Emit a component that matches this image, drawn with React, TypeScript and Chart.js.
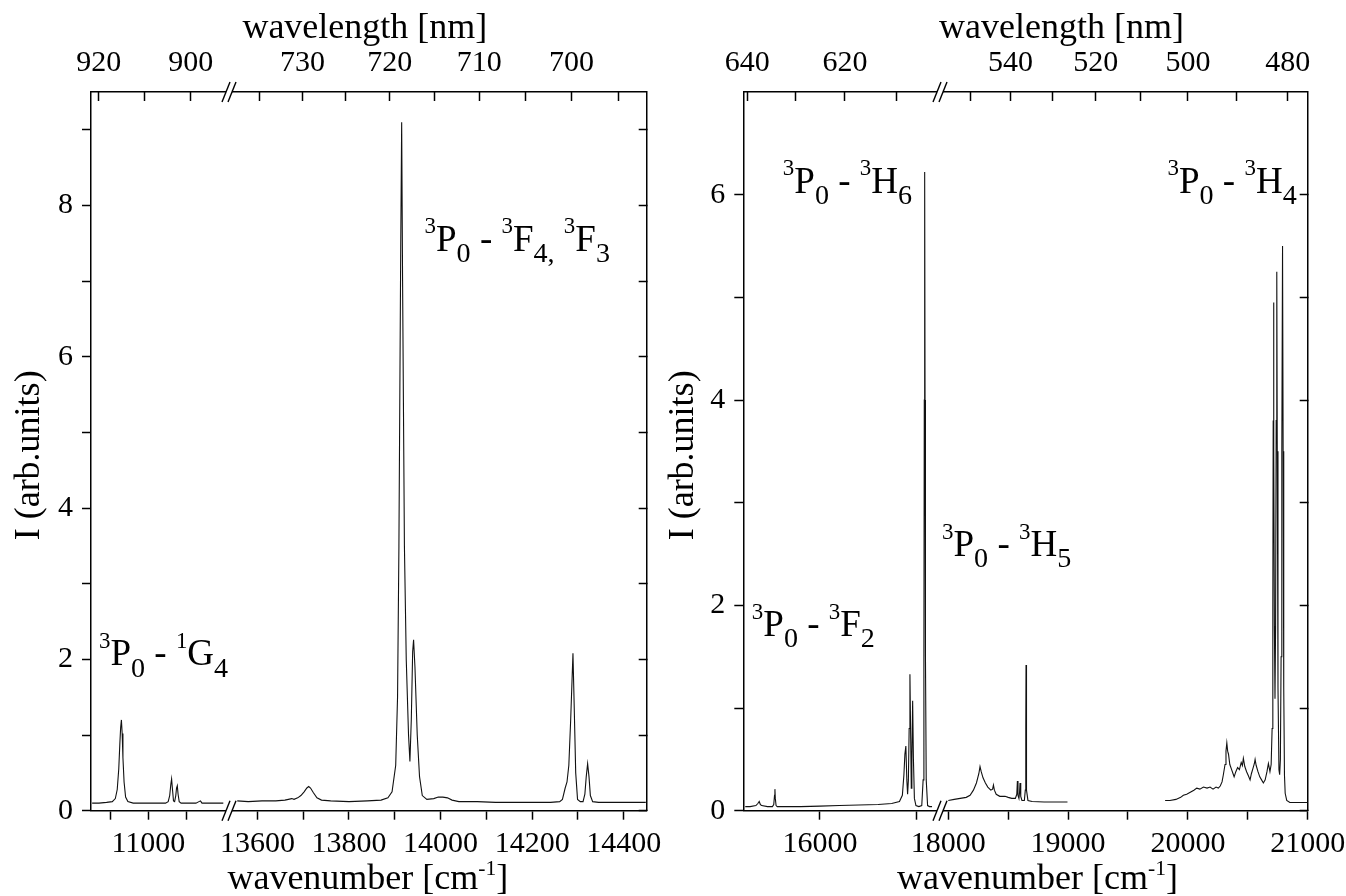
import React, { useEffect, useRef } from 'react';
import { Chart, registerables } from 'chart.js';

Chart.register(...registerables);

const SERIF = '"Liberation Serif", "Times New Roman", Times, serif';
const INK = '#000000';
const LINE = '#111111';
const H = 896;

// ================= DATA (wavenumber in cm-1, intensity in arb. units) =================
// Left panel, segment A (3P0 - 1G4 region)
const L1_WN = [10852, 10870, 10890, 10905, 10913, 10918, 10922, 10925, 10927, 10929,
  10931, 10933, 10936, 10940, 10946, 10960, 10990, 11020, 11045, 11052,
  11056, 11059, 11061, 11063, 11066, 11069, 11072, 11074, 11076, 11078,
  11081, 11086, 11100, 11125, 11133, 11137, 11141, 11160, 11180, 11197];
const L1_I = [0.10, 0.10, 0.11, 0.12, 0.16, 0.28, 0.55, 0.90, 1.10, 1.20,
  1.02, 0.70, 0.38, 0.18, 0.12, 0.10, 0.10, 0.10, 0.10, 0.12,
  0.20, 0.35, 0.42, 0.30, 0.13, 0.12, 0.20, 0.30, 0.33, 0.22,
  0.12, 0.10, 0.10, 0.10, 0.12, 0.13, 0.10, 0.10, 0.10, 0.10];

// Left panel, segment B (3P0 - 3F4, 3F3 region)
const L2_WN = [13556, 13580, 13610, 13640, 13660, 13675, 13680, 13688, 13695, 13702,
  13708, 13712, 13716, 13722, 13730, 13740, 13760, 13800, 13840, 13870,
  13885, 13894, 13902, 13906, 13909, 13913, 13915, 13917, 13921, 13925,
  13930, 13933, 13936, 13939, 13941, 13944, 13949, 13954, 13960, 13970,
  13985, 13995, 14005, 14015, 14025, 14040, 14080, 14120, 14160, 14200,
  14240, 14260, 14266, 14272, 14276, 14280, 14284, 14289, 14292, 14295,
  14299, 14305, 14311, 14315, 14318, 14321, 14324, 14327, 14332, 14345,
  14380, 14420, 14448];
const L2_I = [0.13, 0.12, 0.13, 0.13, 0.14, 0.16, 0.15, 0.17, 0.20, 0.25,
  0.30, 0.32, 0.30, 0.24, 0.17, 0.14, 0.13, 0.12, 0.13, 0.14,
  0.17, 0.25, 0.60, 1.50, 3.50, 7.50, 9.10, 7.00, 3.50, 2.00,
  1.00, 0.65, 1.20, 2.10, 2.26, 1.90, 1.00, 0.45, 0.20, 0.15,
  0.16, 0.18, 0.18, 0.17, 0.14, 0.12, 0.12, 0.11, 0.11, 0.11,
  0.11, 0.12, 0.15, 0.30, 0.38, 0.60, 1.20, 2.08, 1.30, 0.50,
  0.15, 0.12, 0.12, 0.22, 0.45, 0.62, 0.45, 0.20, 0.12, 0.11,
  0.11, 0.11, 0.11];

// Right panel, segment A (3P0 - 3F2, 3H6 region)
const R1_WN = [15615, 15640, 15670, 15680, 15687, 15693, 15700, 15730, 15755, 15762,
  15766, 15768, 15770, 15774, 15780, 15820, 15900, 16000, 16100, 16200,
  16300, 16370, 16410, 16425, 16433, 16438, 16443, 16448, 16452, 16456,
  16460, 16464, 16468, 16471, 16474, 16478, 16482, 16487, 16495, 16510,
  16525, 16532, 16536, 16538, 16540, 16542, 16544, 16548, 16555, 16565,
  16578];
const R1_I = [0.04, 0.04, 0.05, 0.07, 0.09, 0.06, 0.05, 0.04, 0.04, 0.06,
  0.15, 0.21, 0.12, 0.05, 0.04, 0.04, 0.04, 0.045, 0.05, 0.055,
  0.06, 0.07, 0.09, 0.15, 0.35, 0.55, 0.63, 0.30, 0.16, 0.30,
  0.80, 1.33, 0.70, 0.22, 0.50, 1.07, 0.50, 0.12, 0.05, 0.04,
  0.05, 0.30, 1.50, 4.00, 6.22, 4.00, 1.50, 0.30, 0.05, 0.04,
  0.04];

// Right panel, segment B, first recording (3P0 - 3H5 region)
const R2_WN = [18000, 18050, 18100, 18150, 18182, 18210, 18235, 18255, 18265, 18275,
  18290, 18310, 18330, 18355, 18370, 18377, 18385, 18400, 18430, 18474,
  18500, 18530, 18560, 18572, 18577, 18582, 18590, 18595, 18599, 18605,
  18615, 18635, 18643, 18647, 18649, 18651, 18655, 18665, 18700, 18800,
  18900, 18995];
const R2_I = [0.10, 0.11, 0.12, 0.13, 0.15, 0.20, 0.27, 0.36, 0.43, 0.38,
  0.32, 0.27, 0.23, 0.20, 0.21, 0.25, 0.20, 0.16, 0.14, 0.14,
  0.13, 0.12, 0.12, 0.16, 0.29, 0.15, 0.12, 0.18, 0.27, 0.14,
  0.10, 0.10, 0.20, 0.80, 1.42, 0.80, 0.20, 0.10, 0.09, 0.085,
  0.085, 0.085];

// Right panel, segment B, second recording (3P0 - 3H4 region)
const R3_WN = [19810, 19850, 19900, 19940, 19962, 19990, 20020, 20050, 20074, 20100,
  20130, 20160, 20185, 20210, 20235, 20254, 20270, 20285, 20296, 20310,
  20318, 20325, 20332, 20339, 20350, 20365, 20380, 20386, 20400, 20415,
  20430, 20445, 20455, 20463, 20475, 20490, 20505, 20519, 20530, 20545,
  20555, 20561, 20570, 20585, 20600, 20615, 20630, 20645, 20660, 20672,
  20685, 20695, 20703, 20709, 20712, 20715, 20718, 20722, 20727, 20732,
  20737, 20742, 20746, 20752, 20760, 20766, 20772, 20778, 20784, 20790,
  20795, 20800, 20806, 20812, 20825, 20851, 20900, 20950, 21000];
const R3_I = [0.10, 0.10, 0.11, 0.13, 0.15, 0.16, 0.18, 0.20, 0.22, 0.21,
  0.23, 0.22, 0.23, 0.21, 0.23, 0.22, 0.24, 0.28, 0.35, 0.45,
  0.58, 0.66, 0.58, 0.55, 0.45, 0.40, 0.35, 0.33, 0.38, 0.42,
  0.40, 0.47, 0.44, 0.51, 0.43, 0.38, 0.34, 0.30, 0.36, 0.42,
  0.46, 0.50, 0.44, 0.38, 0.33, 0.30, 0.27, 0.30, 0.38, 0.46,
  0.38, 0.45, 0.80, 2.00, 3.80, 4.95, 3.50, 1.80, 1.09, 1.80,
  3.80, 5.25, 3.50, 1.20, 0.40, 0.35, 0.50, 1.50, 3.50, 5.50,
  3.50, 1.20, 0.35, 0.17, 0.10, 0.08, 0.08, 0.08, 0.08];

// ================= AXES =================
const L_RANGE_A = [10849, 11212];
const L_RANGE_B = [13538, 14450];
const R_RANGE_A = [15605, 16619];
const R_RANGE_B = [17931, 21000];
const L_YMAX = 9.5;
const R_YMAX = 7;

const L_BOTTOM_A_TICKS = [10900, 11000, 11100];
const L_BOTTOM_A_LABELS = [11000];
const L_BOTTOM_B_TICKS = [13600, 13700, 13800, 13900, 14000, 14100, 14200, 14300, 14400];
const L_BOTTOM_B_LABELS = [13600, 13800, 14000, 14200, 14400];
const L_TOP_A_NM = [920, 910, 900];
const L_TOP_A_LABELS = [920, 900];
const L_TOP_B_NM = [735, 730, 725, 720, 715, 710, 705, 700, 695];
const L_TOP_B_LABELS = [730, 720, 710, 700];
const L_Y_TICKS = [0, 1, 2, 3, 4, 5, 6, 7, 8, 9];
const L_Y_LABELS = [0, 2, 4, 6, 8];

const R_BOTTOM_A_TICKS = [16000, 16500];
const R_BOTTOM_A_LABELS = [16000];
const R_BOTTOM_B_TICKS = [18000, 18500, 19000, 19500, 20000, 20500, 21000];
const R_BOTTOM_B_LABELS = [18000, 19000, 20000, 21000];
const R_TOP_A_NM = [640, 630, 620, 610];
const R_TOP_A_LABELS = [640, 620];
const R_TOP_B_NM = [550, 540, 530, 520, 510, 500, 490, 480];
const R_TOP_B_LABELS = [540, 520, 500, 480];
const R_Y_TICKS = [0, 1, 2, 3, 4, 5, 6];
const R_Y_LABELS = [0, 2, 4, 6];

// ================= TEXT =================
type Seg = { t: string; k?: 'sup' | 'sub' };
type RichStyle = { size: number; supScale: number; supRise: number; subScale: number; subDrop: number };

const TITLE_TOP: Seg[] = [{ t: 'wavelength [nm]' }];
const TITLE_BOTTOM: Seg[] = [{ t: 'wavenumber [cm' }, { t: '-1', k: 'sup' }, { t: ']' }];
const TITLE_Y: Seg[] = [{ t: 'I (arb.units)' }];

const LBL_G4: Seg[] = [{ t: '3', k: 'sup' }, { t: 'P' }, { t: '0', k: 'sub' }, { t: ' - ' }, { t: '1', k: 'sup' }, { t: 'G' }, { t: '4', k: 'sub' }];
const LBL_F43: Seg[] = [{ t: '3', k: 'sup' }, { t: 'P' }, { t: '0', k: 'sub' }, { t: ' - ' }, { t: '3', k: 'sup' }, { t: 'F' }, { t: '4', k: 'sub' }, { t: ',', k: 'sub' }, { t: ' ' }, { t: '3', k: 'sup' }, { t: 'F' }, { t: '3', k: 'sub' }];
const LBL_H6: Seg[] = [{ t: '3', k: 'sup' }, { t: 'P' }, { t: '0', k: 'sub' }, { t: ' - ' }, { t: '3', k: 'sup' }, { t: 'H' }, { t: '6', k: 'sub' }];
const LBL_H4: Seg[] = [{ t: '3', k: 'sup' }, { t: 'P' }, { t: '0', k: 'sub' }, { t: ' - ' }, { t: '3', k: 'sup' }, { t: 'H' }, { t: '4', k: 'sub' }];
const LBL_H5: Seg[] = [{ t: '3', k: 'sup' }, { t: 'P' }, { t: '0', k: 'sub' }, { t: ' - ' }, { t: '3', k: 'sup' }, { t: 'H' }, { t: '5', k: 'sub' }];
const LBL_F2: Seg[] = [{ t: '3', k: 'sup' }, { t: 'P' }, { t: '0', k: 'sub' }, { t: ' - ' }, { t: '3', k: 'sup' }, { t: 'F' }, { t: '2', k: 'sub' }];

const TITLE_STYLE: RichStyle = { size: 36, supScale: 0.6, supRise: 0.38, subScale: 0.8, subDrop: 0.3 };
const LABEL_STYLE: RichStyle = { size: 37, supScale: 0.62, supRise: 0.47, subScale: 0.76, subDrop: 0.3 };
const TICK_FONT = { family: SERIF, size: 30 };

function segFont(s: Seg, st: RichStyle) {
  const sz = s.k === 'sup' ? st.size * st.supScale : s.k === 'sub' ? st.size * st.subScale : st.size;
  return `${sz}px ${SERIF}`;
}
function richWidth(ctx: CanvasRenderingContext2D, segs: Seg[], st: RichStyle) {
  let w = 0;
  for (const s of segs) { ctx.font = segFont(s, st); w += ctx.measureText(s.t).width; }
  return w;
}
function drawRich(ctx: CanvasRenderingContext2D, segs: Seg[], x: number, y: number, st: RichStyle, align: 'left' | 'center') {
  let cx = align === 'center' ? x - richWidth(ctx, segs, st) / 2 : x;
  for (const s of segs) {
    ctx.font = segFont(s, st);
    const dy = s.k === 'sup' ? -st.size * st.supRise : s.k === 'sub' ? st.size * st.subDrop : 0;
    ctx.fillText(s.t, cx, y + dy);
    cx += ctx.measureText(s.t).width;
  }
}

// ================= PANEL SPECS =================
interface SegmentSpec { min: number; max: number; weight: number; bottomTicks: number[]; bottomLabels: number[]; topNm: number[]; topLabels: number[] }
interface SeriesSpec { seg: 'A' | 'B'; wn: number[]; val: number[] }
interface LabelSpec { seg: 'A' | 'B'; x: number; y: number; segs: Seg[] }
interface PanelSpec {
  left: number; width: number;
  box: { left: number; right: number; top: number; bottom: number };
  A: SegmentSpec; B: SegmentSpec;
  yMax: number; yTicks: number[]; yLabels: number[];
  series: SeriesSpec[];
  labels: LabelSpec[];
  topDx: number; bottomDx: number; yTitleOffset: number;
}

const LEFT: PanelSpec = {
  left: 0, width: 670,
  box: { left: 91, right: 646.7, top: 92, bottom: 810.7 },
  A: { min: L_RANGE_A[0], max: L_RANGE_A[1], weight: 138, bottomTicks: L_BOTTOM_A_TICKS, bottomLabels: L_BOTTOM_A_LABELS, topNm: L_TOP_A_NM, topLabels: L_TOP_A_LABELS },
  B: { min: L_RANGE_B[0], max: L_RANGE_B[1], weight: 417.7, bottomTicks: L_BOTTOM_B_TICKS, bottomLabels: L_BOTTOM_B_LABELS, topNm: L_TOP_B_NM, topLabels: L_TOP_B_LABELS },
  yMax: L_YMAX, yTicks: L_Y_TICKS, yLabels: L_Y_LABELS,
  series: [{ seg: 'A', wn: L1_WN, val: L1_I }, { seg: 'B', wn: L2_WN, val: L2_I }],
  labels: [
    { seg: 'A', x: 10870, y: 1.92, segs: LBL_G4 },
    { seg: 'B', x: 13965, y: 7.40, segs: LBL_F43 },
  ],
  topDx: -4, bottomDx: -1, yTitleOffset: 52,
};

const RIGHT: PanelSpec = {
  left: 660, width: 686,
  box: { left: 83.3, right: 647.7, top: 92, bottom: 810.7 },
  A: { min: R_RANGE_A[0], max: R_RANGE_A[1], weight: 196.7, bottomTicks: R_BOTTOM_A_TICKS, bottomLabels: R_BOTTOM_A_LABELS, topNm: R_TOP_A_NM, topLabels: R_TOP_A_LABELS },
  B: { min: R_RANGE_B[0], max: R_RANGE_B[1], weight: 367.7, bottomTicks: R_BOTTOM_B_TICKS, bottomLabels: R_BOTTOM_B_LABELS, topNm: R_TOP_B_NM, topLabels: R_TOP_B_LABELS },
  yMax: R_YMAX, yTicks: R_Y_TICKS, yLabels: R_Y_LABELS,
  series: [{ seg: 'A', wn: R1_WN, val: R1_I }, { seg: 'B', wn: R2_WN, val: R2_I }, { seg: 'B', wn: R3_WN, val: R3_I }],
  labels: [
    { seg: 'A', x: 15809, y: 6.02, segs: LBL_H6 },
    { seg: 'B', x: 19830, y: 6.02, segs: LBL_H4 },
    { seg: 'B', x: 17948, y: 2.48, segs: LBL_H5 },
    { seg: 'A', x: 15649, y: 1.70, segs: LBL_F2 },
  ],
  topDx: 36, bottomDx: 12, yTitleOffset: 50,
};

// ================= CHART CONFIG =================
function xScale(spec: SegmentSpec, seg: 'A' | 'B', position: 'top' | 'bottom', height: number) {
  const isTop = position === 'top';
  return {
    type: 'linear',
    position,
    stack: isTop ? 'topStack' : 'bottomStack',
    stackWeight: spec.weight,
    weight: isTop ? (seg === 'A' ? 2 : 1) : (seg === 'A' ? 1 : 2),
    min: spec.min,
    max: spec.max,
    offset: false,
    grid: { display: true, drawOnChartArea: false, drawTicks: true, tickLength: isTop ? -9 : 9, tickWidth: 1.5, tickColor: INK, color: INK },
    border: { display: true, color: INK, width: 1.5 },
    ticks: {
      autoSkip: false, maxRotation: 0, minRotation: 0,
      padding: isTop ? 20 : 6,
      color: INK, font: TICK_FONT,
      callback: isTop
        ? (v: number) => { const nm = Math.round(1e7 / v); return spec.topLabels.includes(nm) ? String(nm) : ''; }
        : (v: number) => (spec.bottomLabels.includes(v) ? String(v) : ''),
    },
    afterBuildTicks: (s: any) => {
      const vals = isTop ? spec.topNm.map((nm) => 1e7 / nm) : spec.bottomTicks;
      s.ticks = vals.map((value) => ({ value }));
    },
    afterFit: (s: any) => { s.height = height; s.paddingLeft = 0; s.paddingRight = 0; s.paddingTop = 0; s.paddingBottom = 0; },
  };
}

function buildConfig(p: PanelSpec) {
  const topH = p.box.top;
  const bottomH = H - p.box.bottom;
  const decorPlugin = {
    id: 'decor',
    afterDraw(chart: any) {
      const ctx: CanvasRenderingContext2D = chart.ctx;
      const ca = chart.chartArea;
      ctx.save();
      // axis breaks
      const xb = chart.scales.xbA.right;
      for (const yb of [ca.top, ca.bottom]) {
        ctx.fillStyle = '#ffffff';
        ctx.fillRect(xb - 3, yb - 2.5, 6, 5);
        ctx.strokeStyle = INK;
        ctx.lineWidth = 1.4;
        for (const dx of [-3, 3]) {
          ctx.beginPath();
          ctx.moveTo(xb + dx - 4, yb + 10);
          ctx.lineTo(xb + dx + 4, yb - 10);
          ctx.stroke();
        }
      }
      ctx.fillStyle = INK;
      ctx.textAlign = 'left';
      ctx.textBaseline = 'alphabetic';
      const cx = (ca.left + ca.right) / 2;
      drawRich(ctx, TITLE_TOP, cx + p.topDx, ca.top - 54, TITLE_STYLE, 'center');
      drawRich(ctx, TITLE_BOTTOM, cx + p.bottomDx, ca.bottom + 78, TITLE_STYLE, 'center');
      ctx.save();
      ctx.translate(ca.left - p.yTitleOffset, (ca.top + ca.bottom) / 2 + 4);
      ctx.rotate(-Math.PI / 2);
      drawRich(ctx, TITLE_Y, 0, 0, TITLE_STYLE, 'center');
      ctx.restore();
      for (const l of p.labels) {
        const px = chart.scales['xb' + l.seg].getPixelForValue(l.x);
        const py = chart.scales.y.getPixelForValue(l.y);
        drawRich(ctx, l.segs, px, py, LABEL_STYLE, 'left');
      }
      ctx.restore();
    },
  };

  const datasets = p.series.map((s) => ({
    data: s.wn.slice(0, Math.min(s.wn.length, s.val.length)).map((x, i) => ({ x, y: s.val[i] })),
    xAxisID: 'xb' + s.seg,
    yAxisID: 'y',
    borderColor: LINE,
    borderWidth: 1.1,
    pointRadius: 0,
    tension: 0,
    fill: false,
  }));

  const yCallback = (v: number) => (p.yLabels.includes(v) ? String(v) : '');

  return {
    type: 'line',
    data: { datasets },
    options: {
      responsive: false,
      animation: false,
      devicePixelRatio: 1,
      events: [],
      layout: { padding: 0 },
      plugins: { legend: { display: false }, tooltip: { enabled: false }, title: { display: false } },
      scales: {
        xbA: xScale(p.A, 'A', 'bottom', bottomH),
        xbB: xScale(p.B, 'B', 'bottom', bottomH),
        xtA: xScale(p.A, 'A', 'top', topH),
        xtB: xScale(p.B, 'B', 'top', topH),
        y: {
          type: 'linear', position: 'left', min: 0, max: p.yMax,
          grid: { display: true, drawOnChartArea: false, drawTicks: true, tickLength: 9, tickWidth: 1.5, tickColor: INK, color: INK },
          border: { display: true, color: INK, width: 1.5 },
          ticks: { autoSkip: false, padding: 9, color: INK, font: TICK_FONT, callback: yCallback },
          afterBuildTicks: (s: any) => { s.ticks = p.yTicks.map((value) => ({ value })); },
          afterFit: (s: any) => { s.width = p.box.left; s.paddingTop = 0; s.paddingBottom = 0; s.paddingLeft = 0; s.paddingRight = 0; },
        },
        yr: {
          type: 'linear', position: 'right', min: 0, max: p.yMax,
          grid: { display: true, drawOnChartArea: false, drawTicks: true, tickLength: -8, tickWidth: 1.5, tickColor: INK, color: INK },
          border: { display: true, color: INK, width: 1.5 },
          ticks: { display: false },
          afterBuildTicks: (s: any) => { s.ticks = p.yTicks.map((value) => ({ value })); },
          afterFit: (s: any) => { s.width = p.width - p.box.right; s.paddingTop = 0; s.paddingBottom = 0; s.paddingLeft = 0; s.paddingRight = 0; },
        },
      },
    },
    plugins: [decorPlugin],
  };
}

function Panel({ spec }: { spec: PanelSpec }) {
  const ref = useRef<HTMLCanvasElement | null>(null);
  useEffect(() => {
    const canvas = ref.current;
    if (!canvas) return;
    const chart = new Chart(canvas, buildConfig(spec) as any);
    return () => chart.destroy();
  }, [spec]);
  return (
    <canvas
      ref={ref}
      width={spec.width}
      height={H}
      style={{ position: 'absolute', left: spec.left, top: 0, width: spec.width, height: H }}
    />
  );
}

export default function App() {
  return (
    <div style={{ position: 'absolute', left: 0, top: 0, width: 1346, height: H, background: '#ffffff', overflow: 'hidden' }}>
      <Panel spec={LEFT} />
      <Panel spec={RIGHT} />
    </div>
  );
}
